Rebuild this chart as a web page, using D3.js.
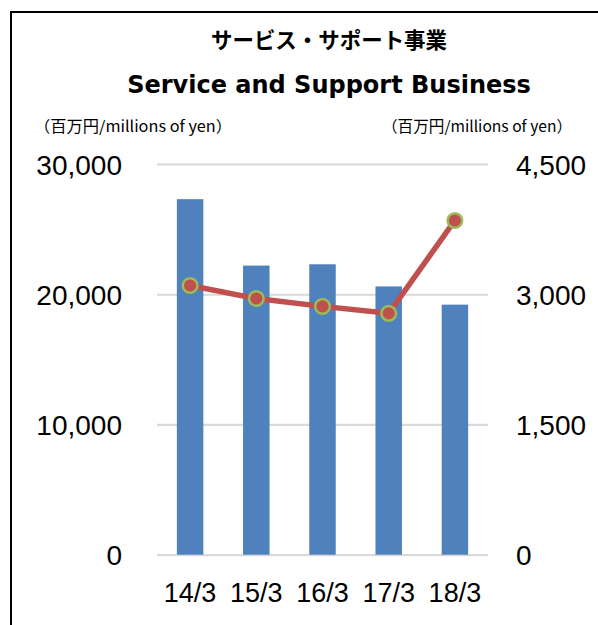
<!DOCTYPE html>
<html>
<head>
<meta charset="utf-8">
<script src="https://cdn.jsdelivr.net/npm/d3@7"></script>
<style>
  html, body { margin: 0; padding: 0; background: #fff; }
  svg { display: block; }
</style>
</head>
<body>
<svg id="chart" width="598" height="625"></svg>
<script>
const categories = ["14/3", "15/3", "16/3", "17/3", "18/3"];
const salesValues = [27300, 22200, 22300, 20600, 19200];      // bars, left axis
const profitValues = [3100, 2950, 2860, 2780, 3850];          // line, right axis
const leftTicks = [0, 10000, 20000, 30000];
const rightTicks = [0, 1500, 3000, 4500];
const titleJa = "サービス・サポート事業";
const titleEn = "Service and Support Business";
const unitLabel = "（百万円/millions of yen）";

const svg = d3.select("#chart");
const plot = { left: 157, right: 488, top: 164, bottom: 554.7 };

// frame (top and left edges visible)
svg.append("path")
  .attr("d", `M11,640 L11,12 L610,12`)
  .attr("fill", "none").attr("stroke", "#000").attr("stroke-width", 2);

const x = d3.scaleBand().domain(categories)
  .range([plot.left, plot.right]).paddingInner(0.6).paddingOuter(0.3);
const yL = d3.scaleLinear().domain([0, 30000]).range([plot.bottom, plot.top]);
const yR = d3.scaleLinear().domain([0, 4500]).range([plot.bottom, plot.top]);
const fmt = d3.format(",");

// left axis with gridlines
const gL = svg.append("g").attr("transform", `translate(${plot.left},0)`)
  .call(d3.axisLeft(yL).tickValues(leftTicks).tickFormat(fmt)
    .tickSize(-(plot.right - plot.left)).tickPadding(35));
gL.select(".domain").remove();
gL.selectAll(".tick line").attr("stroke", "#D9D9D9").attr("stroke-width", 2.2);
gL.selectAll(".tick text")
  .attr("font-family", "'Liberation Sans', Arial, sans-serif")
  .attr("font-size", 28).attr("fill", "#000").attr("dy", "0.36em");

// right axis
const gR = svg.append("g").attr("transform", `translate(${plot.right},0)`)
  .call(d3.axisRight(yR).tickValues(rightTicks).tickFormat(fmt)
    .tickSize(0).tickPadding(28));
gR.select(".domain").remove();
gR.selectAll(".tick text")
  .attr("font-family", "'Liberation Sans', Arial, sans-serif")
  .attr("font-size", 28).attr("fill", "#000").attr("dy", "0.36em");

// bars
svg.append("g").selectAll("rect").data(categories).join("rect")
  .attr("x", d => x(d))
  .attr("width", x.bandwidth())
  .attr("y", (d, i) => yL(salesValues[i]))
  .attr("height", (d, i) => yL(0) - yL(salesValues[i]))
  .attr("fill", "#4F81BD");

// x axis labels
const gX = svg.append("g").attr("transform", `translate(0,${plot.bottom})`)
  .call(d3.axisBottom(x).tickSize(0).tickPadding(28));
gX.select(".domain").remove();
gX.selectAll(".tick text")
  .attr("font-family", "'Liberation Sans', Arial, sans-serif")
  .attr("font-size", 27).attr("fill", "#000");

// line
const line = d3.line()
  .x((d, i) => x(categories[i]) + x.bandwidth() / 2)
  .y(d => yR(d));
svg.append("path").datum(profitValues)
  .attr("d", line).attr("fill", "none")
  .attr("stroke", "#C0504D").attr("stroke-width", 5.5)
  .attr("stroke-linejoin", "round");
svg.append("g").selectAll("circle").data(profitValues).join("circle")
  .attr("cx", (d, i) => x(categories[i]) + x.bandwidth() / 2)
  .attr("cy", d => yR(d))
  .attr("r", 7.3)
  .attr("fill", "#C0504D").attr("stroke", "#9BBB59").attr("stroke-width", 2.5);

// titles
svg.append("text").text(titleJa)
  .attr("x", 329).attr("y", 47.5).attr("text-anchor", "middle")
  .attr("font-family", "'Noto Sans CJK JP', sans-serif")
  .attr("font-weight", "bold").attr("font-size", 22).attr("fill", "#000")
  .attr("textLength", 236).attr("lengthAdjust", "spacingAndGlyphs");
svg.append("text").text(titleEn)
  .attr("x", 329).attr("y", 93).attr("text-anchor", "middle")
  .attr("font-family", "'DejaVu Sans', sans-serif")
  .attr("font-weight", "bold").attr("font-size", 24).attr("fill", "#000");

// unit labels
svg.append("text").text(unitLabel)
  .attr("x", 34).attr("y", 132)
  .attr("font-family", "'Noto Sans CJK JP', sans-serif")
  .attr("font-size", 15.5).attr("fill", "#000")
  .attr("textLength", 198).attr("lengthAdjust", "spacingAndGlyphs");
svg.append("text").text(unitLabel)
  .attr("x", 382).attr("y", 132)
  .attr("font-family", "'Noto Sans CJK JP', sans-serif")
  .attr("font-size", 15.5).attr("fill", "#000")
  .attr("textLength", 190).attr("lengthAdjust", "spacingAndGlyphs");
</script>
</body>
</html>
